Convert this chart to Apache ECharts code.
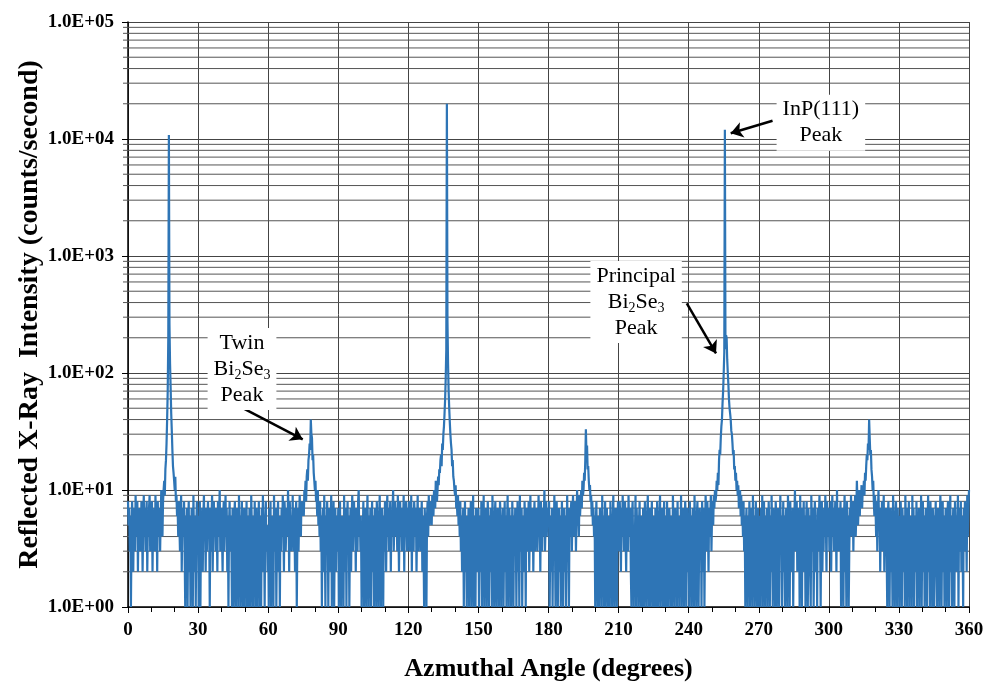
<!DOCTYPE html>
<html>
<head>
<meta charset="utf-8">
<script src="https://cdn.jsdelivr.net/npm/echarts@6/dist/echarts.min.js"></script>
<style>
  html, body { margin: 0; padding: 0; background: #fff; }
  #chart { width: 985px; height: 682px; }
</style>
</head>
<body>
<div id="chart"></div>
<script>
// angle sampling (degrees)
const angleStart = 0;
const angleStep = 0.25;

// reflected intensity (counts/second), one array per 30 degrees
const intensity000 = [
  8,5,7,3,6,1,4,8,5,2,6,7,3,9,5,4,8,2,6,5,
  7,3,4,8,6,2,5,9,4,7,3,6,8,2,5,4,7,9,3,6,
  5,8,2,6,4,7,3,9,5,6,2,8,4,5,7,3,6,10,5,4,
  8,10,12,9,15,18,25,40,70,200,10800,260,120,75,45,32,22,16,14,12,
  10,13,8,9,6,7,4,8,5,3,6,9,2,5,7,4,8,3,1,6,
  4,7,1,5,8,2,6,1,3,7,5,1,9,4,2,6,1,5,8,3];
const intensity030 = [
  6,1,4,8,1,5,3,7,2,6,9,4,5,2,7,3,6,8,4,5,
  1,7,3,6,9,2,5,8,4,6,3,7,5,2,8,4,6,10,3,5,
  7,4,2,6,8,3,5,9,4,7,2,6,1,5,8,3,6,4,1,7,
  3,1,6,8,2,1,5,7,4,1,9,3,6,1,5,8,2,1,4,7,
  1,5,3,8,1,6,2,1,7,4,1,9,5,2,1,6,3,8,1,4,
  7,1,5,2,8,1,6,3,1,7,4,9,2,5,1,6,8,3,5,2];
const intensity060 = [
  5,1,7,3,8,1,4,6,2,1,9,5,3,7,1,4,6,8,2,5,
  1,6,3,7,4,9,5,2,8,6,3,5,7,4,10,6,2,8,5,3,
  6,4,9,3,7,5,2,6,8,1,4,7,3,6,9,5,4,8,6,7,
  8,6,10,9,12,8,13,15,12,18,20,25,22,40,30,28,18,20,14,12,
  10,12,8,9,6,10,5,7,4,8,3,6,1,5,7,2,9,4,1,6,
  3,8,5,1,7,4,2,6,9,1,5,3,8,1,4,7,2,6,5,3];
const intensity090 = [
  7,1,4,8,2,1,6,3,5,1,9,4,2,7,1,5,8,3,6,1,
  4,7,2,6,9,3,5,8,4,6,2,7,5,3,8,10,4,6,3,5,
  1,6,4,8,1,3,7,2,1,5,9,4,1,6,3,7,1,5,8,2,
  6,1,4,7,3,1,8,5,2,1,6,9,3,1,5,7,4,1,6,3,
  8,5,2,6,9,4,7,3,5,8,2,6,4,7,10,3,5,8,6,4,
  7,3,9,5,2,6,8,4,6,3,7,5,9,2,6,4,8,5,3,7];
const intensity120 = [
  5,8,3,6,4,9,2,7,5,3,8,6,4,7,2,5,9,3,6,4,
  7,3,5,8,2,6,4,1,7,5,3,1,6,8,4,9,5,7,6,8,
  5,9,7,6,10,8,7,12,9,8,10,13,11,15,14,18,20,16,25,22,
  30,35,45,60,90,160,20000,280,120,70,50,38,30,25,22,16,18,13,12,10,
  9,11,7,8,6,9,5,7,4,8,3,6,2,5,7,1,4,8,2,6,
  1,5,3,7,1,6,4,8,1,2,5,9,1,3,6,1,7,4,2,5];
const intensity150 = [
  7,1,4,6,2,8,1,5,3,9,1,6,4,7,1,3,8,5,1,6,
  2,7,4,1,9,5,3,1,6,8,2,1,4,7,5,1,3,8,6,1,
  5,3,7,1,4,8,2,6,1,5,9,3,1,7,4,6,1,2,8,5,
  1,6,3,7,5,1,4,8,2,6,1,9,3,5,7,1,4,6,2,8,
  5,1,7,3,6,4,8,2,5,9,3,6,4,7,2,5,8,3,6,4,
  7,3,5,9,4,6,2,8,5,3,7,4,6,10,3,5,8,4,6,7];
const intensity180 = [
  5,8,1,4,6,2,7,1,5,3,9,4,1,6,8,3,1,5,7,2,
  6,1,4,8,3,1,5,7,2,6,1,4,9,3,5,1,7,4,6,8,
  3,6,9,4,7,5,8,3,6,10,5,7,4,9,6,8,10,7,12,9,
  10,14,12,18,33,20,24,15,16,12,10,11,8,9,6,8,5,7,4,6,
  1,5,8,3,1,6,4,1,7,2,5,1,9,3,6,1,4,8,1,5,
  7,2,1,6,4,1,8,3,5,1,6,9,2,1,4,7,3,1,5,8];
const intensity210 = [
  6,3,8,5,2,7,4,9,6,3,5,8,4,2,7,6,3,9,5,4,
  7,2,1,6,8,3,1,5,4,9,1,7,3,6,1,5,8,2,1,6,
  4,1,7,3,1,8,5,2,1,6,9,4,1,3,7,1,5,8,2,1,
  6,3,1,7,4,1,8,5,1,2,6,9,1,4,7,3,1,5,8,1,
  3,6,1,8,2,1,5,7,4,1,6,3,1,9,5,2,1,7,4,6,
  1,8,3,5,1,6,4,9,1,2,7,5,1,3,8,6,1,4,7,2];
const intensity240 = [
  5,1,8,3,6,1,4,7,2,1,9,5,3,1,6,8,2,1,4,7,
  3,6,1,8,5,2,7,1,4,9,6,3,8,5,2,7,4,6,9,3,
  6,8,5,9,7,10,8,9,12,10,14,11,18,22,20,28,35,40,55,70,
  100,150,12000,160,210,200,130,100,80,60,50,45,40,32,30,25,20,22,15,16,
  12,14,10,12,9,11,7,8,10,6,9,5,7,4,8,3,6,1,5,7,
  2,1,6,4,8,1,3,7,5,1,9,2,6,1,4,8,3,1,5,7];
const intensity270 = [
  1,6,4,1,7,3,9,1,5,8,2,1,6,4,7,1,3,8,5,1,
  6,2,9,4,1,7,5,3,1,8,6,1,4,7,2,1,5,9,3,6,
  1,4,8,2,6,1,5,7,3,1,9,4,6,1,8,2,5,3,7,1,
  4,6,10,3,5,8,2,7,4,6,1,9,3,5,1,7,4,8,2,6,
  1,5,8,3,1,7,4,6,2,1,9,5,3,7,1,4,8,6,2,5,
  1,7,3,6,9,4,1,5,8,2,6,3,7,4,9,5,2,8,6,4];
const intensity300 = [
  7,3,5,8,2,6,9,4,7,3,5,8,6,2,10,4,7,3,6,5,
  8,1,4,7,3,1,6,9,2,5,1,8,4,6,1,3,7,5,9,4,
  6,8,3,7,5,9,4,6,12,8,5,7,10,6,9,8,11,7,10,9,
  12,9,14,12,16,20,18,25,22,40,28,20,22,15,13,10,12,8,6,9,
  7,4,8,3,6,10,5,7,2,6,4,8,3,5,9,2,6,4,7,3,
  1,6,8,3,1,5,7,2,4,1,9,6,3,1,5,8,4,1,7,2];
const intensity330 = [
  6,1,3,8,5,1,7,4,2,6,1,9,5,3,1,7,4,8,1,6,
  2,5,1,9,3,7,1,4,6,2,8,1,5,3,7,1,6,4,9,1,
  5,8,2,6,1,4,7,3,1,5,9,2,6,1,8,4,3,1,7,5,
  1,6,4,8,2,1,5,7,3,1,6,9,4,1,5,8,2,6,1,3,
  7,4,1,6,8,3,1,5,9,2,6,1,4,7,3,1,8,5,2,6,
  4,9,1,7,3,5,8,2,6,4,1,7,3,8,5,6,2,9,4,7,
  10];

const yTickLabels = ['1.0E+00', '1.0E+01', '1.0E+02', '1.0E+03', '1.0E+04', '1.0E+05'];

// annotations: [angle, intensity] anchors
const notes = [
  { text: 'Twin\nBi{sub|2}Se{sub|3}\nPeak', at: [48.8, 108] },
  { text: 'Principal\nBi{sub|2}Se{sub|3}\nPeak', at: [217.5, 404] },
  { text: 'InP(111)\nPeak', at: [296.6, 13800] }
];
const arrows = [
  [[45.9, 54.3], [74.8, 27.1]],
  [[239.2, 394], [251.7, 147]],
  [[275.9, 14330], [258.0, 11190]]
];

const intensity = [].concat(intensity000, intensity030, intensity060, intensity090,
  intensity120, intensity150, intensity180, intensity210, intensity240,
  intensity270, intensity300, intensity330);
const lineData = intensity.map((v, i) => [angleStart + i * angleStep, v]);

// minor log grid lines 2..9 per decade
const minorValues = [];
for (let d = 0; d < 5; d++) {
  for (let m = 2; m <= 9; m++) minorValues.push([0, m * Math.pow(10, d)]);
}

const serif = '"Liberation Serif", "Times New Roman", serif';
const chart = echarts.init(document.getElementById('chart'));

chart.setOption({
  animation: false,
  backgroundColor: '#fff',
  grid: { left: 128, right: 16, top: 22, bottom: 75, outerBoundsMode: 'none', containLabel: false },
  xAxis: {
    type: 'value',
    min: 0, max: 360, interval: 30,
    name: 'Azmuthal Angle (degrees)',
    nameLocation: 'middle',
    nameGap: 49,
    nameMoveOverlap: false,
    nameTextStyle: { fontFamily: serif, fontWeight: 'bold', fontSize: 26, color: '#000' },
    axisLine: { lineStyle: { color: '#000', width: 1.5 } },
    axisTick: { show: true, length: 6, lineStyle: { color: '#000' } },
    minorTick: { show: true, splitNumber: 3, length: 5, lineStyle: { color: '#000' } },
    axisLabel: { fontFamily: serif, fontWeight: 'bold', fontSize: 19, color: '#000', margin: 14 },
    splitLine: { show: true, lineStyle: { color: '#444', width: 1 } }
  },
  yAxis: {
    type: 'log',
    logBase: 10,
    min: 1, max: 100000,
    name: 'Reflected X-Ray  Intensity (counts/second)',
    nameLocation: 'middle',
    nameGap: 84,
    nameMoveOverlap: false,
    nameTextStyle: { fontFamily: serif, fontWeight: 'bold', fontSize: 28, color: '#000' },
    axisLine: { show: true, lineStyle: { color: '#000', width: 1.5 } },
    axisTick: { show: true, length: 6, lineStyle: { color: '#000' } },
    axisLabel: {
      fontFamily: serif, fontWeight: 'bold', fontSize: 19, color: '#000', margin: 14,
      formatter: v => yTickLabels[Math.round(Math.log10(v))]
    },
    splitLine: { show: true, lineStyle: { color: '#444', width: 1 } }
  },
  series: [
    {
      type: 'custom',
      silent: true,
      z: 1,
      data: minorValues,
      encode: { x: 0, y: 1 },
      renderItem: function (params, api) {
        const v = api.value(1);
        const p0 = api.coord([0, v]);
        const p1 = api.coord([360, v]);
        return {
          type: 'line',
          shape: { x1: p0[0] - 5, y1: p0[1], x2: p1[0], y2: p1[1] },
          style: { stroke: '#555', lineWidth: 1 }
        };
      }
    },
    {
      type: 'line',
      z: 3,
      data: lineData,
      showSymbol: false,
      sampling: 'none',
      silent: true,
      lineStyle: { color: '#2E75B6', width: 2.2 },
      markLine: {
        silent: true,
        symbol: ['none', 'arrow'],
        symbolSize: 12,
        label: { show: false },
        lineStyle: { color: '#000', width: 2.5, type: 'solid' },
        data: arrows.map(a => [{ coord: a[0] }, { coord: a[1] }])
      },
      markPoint: {
        silent: true,
        symbol: 'rect',
        symbolSize: 1,
        itemStyle: { color: 'rgba(0,0,0,0)' },
        label: {
          show: true,
          position: 'inside',
          color: '#000',
          fontFamily: serif,
          fontSize: 22,
          lineHeight: 26,
          align: 'center',
          backgroundColor: '#fff',
          padding: [2, 6],
          rich: {
            sub: { fontFamily: serif, fontSize: 14, lineHeight: 16, verticalAlign: 'bottom', color: '#000' }
          }
        },
        data: notes.map(n => ({ coord: n.at, label: { formatter: n.text } }))
      }
    }
  ]
});
</script>
</body>
</html>
